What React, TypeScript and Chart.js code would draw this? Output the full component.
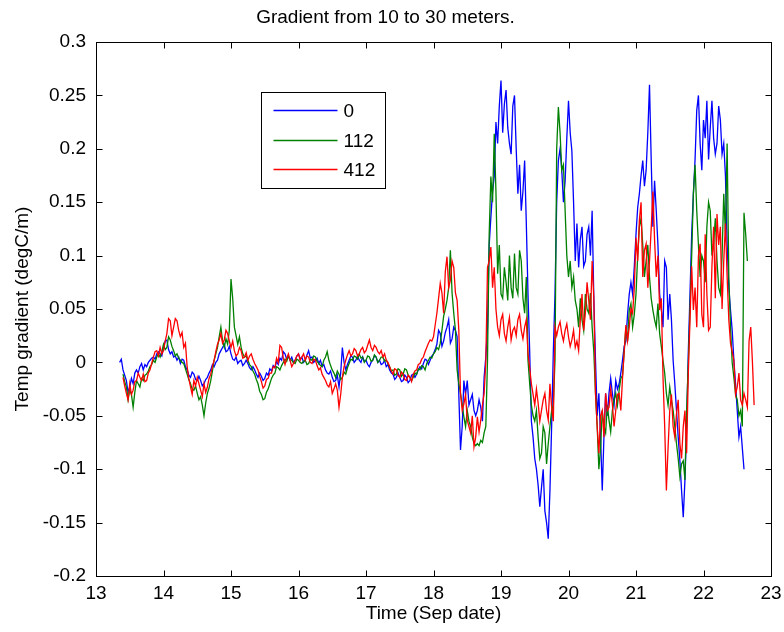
import React, { useEffect, useRef } from "react";
import { Chart, registerables } from "chart.js";

Chart.register(...registerables);

// Time axis: first sample day and sampling step (days)
const startDay = 13.35;
const stepDay = 0.025;

const seriesLabels = ["0", "112", "412"];
const seriesColors = ["#0000ff", "#008000", "#ff0000"];

const chartTitle = "Gradient from 10 to 30 meters.";
const xTitle = "Time (Sep date)";
const yTitle = "Temp gradient (degC/m)";

const xTicks = [13, 14, 15, 16, 17, 18, 19, 20, 21, 22, 23];
const yTicks = [-0.2, -0.15, -0.1, -0.05, 0, 0.05, 0.1, 0.15, 0.2, 0.25, 0.3];

// rows of 20 samples = half a day, starting 13.35 (until 17.975)
// then rows of 10 samples = quarter day, starting 18.00
const blue0 = [
  0.000, 0.003, -0.007, -0.012, -0.017, -0.028, -0.023, -0.015, -0.020, -0.010, -0.007, -0.010, -0.004, -0.001, -0.007, -0.002, -0.004, 0.000, 0.002, 0.004,
  0.005, 0.003, 0.008, 0.010, 0.008, 0.006, 0.014, 0.020, 0.021, 0.012, 0.008, 0.010, 0.005, 0.006, 0.002, 0.005, -0.001, 0.003, 0.002, -0.004,
  -0.007, -0.012, -0.014, -0.009, -0.011, -0.016, -0.017, -0.013, -0.017, -0.022, -0.020, -0.016, -0.014, -0.010, -0.007, -0.002, -0.004, 0.000, 0.002, 0.008,
  0.011, 0.014, 0.017, 0.010, 0.011, 0.015, 0.008, 0.003, 0.002, 0.005, -0.001, 0.001, 0.002, -0.003, -0.001, 0.002, -0.001, -0.005, -0.007, -0.004,
  -0.007, -0.011, -0.014, -0.010, -0.013, -0.017, -0.015, -0.010, -0.012, -0.006, -0.008, -0.003, -0.005, 0.001, -0.002, 0.004, 0.002, 0.010, 0.008, 0.003,
  0.006, 0.002, 0.005, 0.000, 0.002, 0.006, 0.008, 0.003, 0.005, 0.000, 0.002, 0.007, 0.011, 0.004, 0.005, 0.000, 0.002, 0.004, -0.001, 0.002,
  -0.004, -0.002, -0.007, -0.010, -0.011, -0.008, -0.014, -0.018, -0.017, -0.012, -0.023, -0.010, 0.014, 0.000, -0.007, -0.002, 0.002, 0.006, 0.005, 0.000,
  0.002, 0.006, 0.002, 0.000, 0.005, 0.001, 0.002, -0.002, -0.004, 0.000, 0.002, 0.006, 0.005, 0.000, 0.002, -0.002, -0.001, 0.002, -0.004, -0.002,
  -0.007, -0.010, -0.011, -0.016, -0.014, -0.010, -0.014, -0.018, -0.017, -0.012, -0.014, -0.019, -0.017, -0.012, -0.011, -0.014, -0.011, -0.007, -0.004, -0.006,
  -0.001, 0.003, 0.002, -0.002, 0.002, 0.006,
  // 18.00
  0.008, 0.012, 0.017, 0.030, 0.027, 0.015, 0.020, 0.028, 0.033, 0.040,
  0.018, 0.022, 0.033, 0.030, 0.024, -0.030, -0.082, -0.060, -0.017, -0.030,
  -0.017, -0.040, -0.035, -0.030, -0.045, -0.050, -0.045, -0.035, -0.042, -0.055,
  -0.014, 0.005, 0.033, 0.110, 0.136, 0.160, 0.174, 0.225, 0.205, 0.240,
  0.264, 0.215, 0.242, 0.255, 0.220, 0.205, 0.195, 0.240, 0.250, 0.200,
  0.158, 0.185, 0.142, 0.160, 0.189, 0.130, 0.064, 0.010, -0.055, -0.070,
  -0.090, -0.100, -0.115, -0.135, -0.117, -0.100, -0.139, -0.150, -0.165, -0.120,
  -0.060, 0.010, 0.064, 0.150, 0.189, 0.200, 0.180, 0.150, 0.170, 0.210,
  0.245, 0.215, 0.198, 0.150, 0.095, 0.130, 0.089, 0.115, 0.127, 0.090,
  0.095, 0.120, 0.127, 0.100, 0.142, 0.060, 0.002, -0.050, -0.029, -0.070,
  -0.120, -0.070, -0.029, -0.050, -0.029, -0.015, -0.029, -0.040, -0.017, -0.025,
  -0.020, -0.010, 0.002, 0.015, 0.020, 0.045, 0.064, 0.075, 0.064, 0.090,
  0.120, 0.145, 0.158, 0.175, 0.189, 0.165, 0.180, 0.215, 0.260, 0.190,
  0.127, 0.170, 0.142, 0.110, 0.064, 0.050, 0.033, 0.095, 0.089, 0.040,
  0.064, 0.040, 0.002, -0.020, -0.045, -0.070, -0.092, -0.120, -0.145, -0.110,
  -0.060, 0.010, 0.064, 0.120, 0.158, 0.190, 0.236, 0.250, 0.205, 0.180,
  0.227, 0.210, 0.245, 0.190, 0.220, 0.245, 0.210, 0.195, 0.205, 0.240,
  0.227, 0.195, 0.205, 0.175, 0.111, 0.070, 0.049, 0.030, 0.002, -0.020,
  -0.045, -0.070, -0.060, -0.080, -0.100,
];

const green112 = [
  null, null, -0.011, -0.018, -0.023, -0.035, -0.026, -0.030, -0.042, -0.028, -0.017, -0.020, -0.023, -0.015, -0.017, -0.012, -0.011, -0.008, -0.004, -0.002,
  0.002, 0.000, 0.005, 0.008, 0.005, 0.010, 0.017, 0.012, 0.014, 0.024, 0.021, 0.015, 0.011, 0.006, 0.008, 0.004, 0.002, 0.000, -0.001, -0.006,
  -0.011, -0.016, -0.020, -0.025, -0.026, -0.022, -0.029, -0.035, -0.032, -0.040, -0.050, -0.038, -0.029, -0.024, -0.017, -0.008, 0.002, 0.008, 0.014, 0.024,
  0.033, 0.020, 0.014, 0.022, 0.017, 0.030, 0.078, 0.060, 0.033, 0.025, 0.017, 0.024, 0.014, 0.008, 0.005, 0.006, 0.002, -0.002, -0.004, -0.008,
  -0.011, -0.016, -0.020, -0.027, -0.030, -0.035, -0.034, -0.028, -0.025, -0.020, -0.015, -0.012, -0.010, -0.004, -0.005, -0.007, -0.003, 0.000, 0.003, 0.001,
  0.006, 0.003, 0.002, 0.000, -0.001, 0.003, 0.002, 0.000, -0.001, 0.001, 0.002, -0.002, -0.001, 0.003, 0.002, 0.006, 0.005, 0.001, -0.001, -0.003,
  -0.004, 0.002, 0.005, 0.010, 0.002, -0.003, -0.007, -0.010, -0.014, -0.008, -0.011, -0.016, -0.014, -0.009, -0.011, -0.005, -0.001, 0.003, 0.002, 0.006,
  0.005, 0.003, 0.008, 0.004, 0.005, 0.000, 0.002, 0.006, 0.005, 0.001, 0.002, 0.007, 0.005, 0.000, 0.002, 0.005, 0.005, 0.001, 0.002, -0.001,
  -0.004, -0.008, -0.007, -0.012, -0.011, -0.006, -0.007, -0.013, -0.011, -0.006, -0.007, -0.012, -0.014, -0.017, -0.014, -0.010, -0.011, -0.006, -0.007, -0.003,
  -0.004, -0.007, -0.001, 0.002, 0.005, 0.004,
  // 18.00
  0.008, 0.010, 0.014, 0.012, 0.018, 0.030, 0.043, 0.050, 0.058, 0.070,
  0.105, 0.065, 0.046, 0.030, -0.007, -0.020, -0.029, -0.040, -0.051, -0.060,
  -0.045, -0.055, -0.060, -0.070, -0.076, -0.078, -0.076, -0.078, -0.073, -0.075,
  -0.066, -0.060, 0.002, 0.120, 0.174, 0.150, 0.214, 0.160, 0.083, 0.110,
  0.064, 0.060, 0.089, 0.075, 0.058, 0.100, 0.070, 0.060, 0.102, 0.070,
  0.064, 0.105, 0.095, 0.060, 0.046, 0.080, 0.002, -0.020, -0.040, -0.050,
  -0.055, -0.045, -0.070, -0.090, -0.085, -0.060, -0.066, -0.095, -0.076, -0.060,
  -0.045, -0.040, 0.002, 0.200, 0.239, 0.215, 0.180, 0.185, 0.142, 0.100,
  0.080, 0.095, 0.070, 0.080, 0.058, 0.050, 0.033, 0.060, 0.040, 0.030,
  0.064, 0.050, 0.046, 0.065, 0.033, 0.010, -0.029, -0.060, -0.100, -0.080,
  -0.045, -0.060, -0.066, -0.040, -0.054, -0.065, -0.045, -0.035, -0.029, -0.040,
  -0.026, -0.015, -0.012, 0.010, 0.033, 0.020, 0.049, 0.055, 0.033, 0.045,
  0.064, 0.100, 0.127, 0.135, 0.110, 0.080, 0.095, 0.110, 0.080, 0.060,
  0.049, 0.040, 0.033, 0.055, 0.027, 0.015, 0.002, -0.010, -0.029, -0.040,
  -0.023, -0.035, -0.045, -0.060, -0.076, -0.090, -0.107, -0.095, -0.092, -0.110,
  -0.045, 0.000, 0.049, 0.100, 0.158, 0.185, 0.142, 0.110, 0.080, 0.100,
  0.095, 0.075, 0.127, 0.150, 0.142, 0.100, 0.111, 0.135, 0.095, 0.070,
  0.064, 0.100, 0.158, 0.120, 0.205, 0.080, 0.033, 0.000, -0.014, -0.030,
  -0.035, -0.050, -0.045, -0.060, 0.140, 0.120, 0.095,
];

const red412 = [
  null, null, -0.014, -0.022, -0.029, -0.035, -0.020, -0.030, -0.026, -0.018, -0.017, -0.010, -0.014, -0.017, -0.011, -0.018, -0.017, -0.010, -0.007, -0.001,
  0.005, 0.010, 0.011, 0.006, 0.014, 0.008, 0.011, 0.020, 0.027, 0.041, 0.039, 0.025, 0.033, 0.041, 0.039, 0.030, 0.024, 0.028, 0.014, 0.018,
  -0.004, -0.015, -0.023, -0.030, -0.017, -0.022, -0.014, -0.020, -0.026, -0.032, -0.020, -0.028, -0.023, -0.015, -0.011, -0.004, 0.002, 0.010, 0.017, 0.021,
  0.027, 0.018, 0.021, 0.030, 0.027, 0.020, 0.014, 0.020, 0.011, 0.006, 0.008, 0.014, 0.011, 0.004, 0.005, 0.009, 0.002, 0.006, 0.008, 0.003,
  -0.001, -0.004, -0.007, -0.013, -0.018, -0.024, -0.022, -0.016, -0.015, -0.010, -0.010, -0.004, -0.005, 0.004, 0.000, 0.016, 0.014, 0.004, -0.002, 0.004,
  0.008, 0.002, -0.004, -0.001, 0.002, 0.006, 0.008, 0.002, 0.005, 0.008, 0.002, 0.006, 0.005, 0.000, -0.001, 0.003, 0.002, -0.003, -0.007, -0.005,
  -0.011, -0.014, -0.017, -0.021, -0.023, -0.018, -0.029, -0.025, -0.020, -0.026, -0.042, -0.030, -0.014, -0.004, 0.002, 0.007, 0.011, 0.006, 0.008, 0.013,
  0.011, 0.006, 0.008, 0.012, 0.014, 0.009, 0.011, 0.016, 0.021, 0.014, 0.011, 0.016, 0.014, 0.010, 0.008, 0.011, 0.005, 0.008, 0.002, 0.000,
  -0.004, -0.008, -0.011, -0.006, -0.007, -0.012, -0.014, -0.009, -0.011, -0.016, -0.017, -0.012, -0.014, -0.018, -0.011, -0.008, -0.007, -0.002, -0.001, 0.003,
  0.005, 0.010, 0.014, 0.018, 0.021, 0.020,
  // 18.00
  0.024, 0.035, 0.046, 0.060, 0.074, 0.065, 0.046, 0.085, 0.099, 0.070,
  0.077, 0.095, 0.089, 0.065, 0.058, 0.030, -0.029, -0.045, -0.039, -0.030,
  -0.054, -0.060, -0.066, -0.050, -0.079, -0.070, -0.051, -0.065, -0.054, -0.040,
  -0.029, 0.000, 0.089, 0.095, 0.108, 0.070, 0.089, 0.050, 0.033, 0.025,
  0.040, 0.045, 0.027, 0.020, 0.033, 0.042, 0.021, 0.030, 0.033, 0.025,
  0.040, 0.045, 0.030, 0.022, 0.033, 0.040, 0.008, -0.005, -0.020, -0.030,
  -0.040, -0.025, -0.038, -0.055, -0.045, -0.035, -0.029, -0.045, -0.054, -0.020,
  -0.042, -0.055, 0.033, 0.025, 0.033, 0.038, 0.027, 0.020, 0.030, 0.036,
  0.024, 0.015, 0.021, 0.030, 0.014, 0.020, 0.011, 0.040, 0.064, 0.030,
  0.046, 0.075, 0.058, 0.040, 0.095, 0.060, -0.029, -0.060, -0.085, -0.050,
  -0.045, -0.070, -0.029, -0.045, -0.042, -0.025, -0.039, -0.060, -0.045, -0.030,
  -0.029, -0.045, -0.015, 0.010, 0.035, 0.020, 0.033, 0.050, 0.046, 0.070,
  0.117, 0.095, 0.133, 0.150, 0.080, 0.105, 0.111, 0.070, 0.095, 0.125,
  0.160, 0.115, 0.080, 0.100, 0.049, 0.060, -0.014, -0.060, -0.120, -0.080,
  -0.045, -0.030, -0.060, -0.070, -0.048, -0.035, -0.076, -0.090, -0.060, -0.045,
  -0.085, -0.010, 0.040, 0.090, 0.049, 0.070, 0.033, 0.100, 0.111, 0.045,
  0.033, 0.120, 0.064, 0.030, 0.033, 0.090, 0.127, 0.060, 0.139, 0.110,
  0.127, 0.050, 0.095, 0.130, 0.080, 0.040, 0.018, 0.010, 0.002, -0.030,
  -0.023, -0.010, -0.035, -0.040, -0.029, -0.035, -0.042, 0.020, 0.033, 0.000, -0.040,
];

const FONT_FAMILY = "'Liberation Sans', Arial, sans-serif";
const FONT_SIZE = 19;

function toPoints(vals: (number | null)[]) {
  return vals.map((v, i) => ({ x: Number((startDay + i * stepDay).toFixed(3)), y: v }));
}

const framePlugin = {
  id: "matlabFrame",
  afterDatasetsDraw(chart: any) {
    const { ctx, chartArea: a, scales } = chart;
    ctx.save();
    ctx.strokeStyle = "#000";
    ctx.lineWidth = 1;
    const l = Math.round(a.left) + 0.5;
    const t = Math.round(a.top) + 0.5;
    const r = Math.round(a.right) + 0.5;
    const b = Math.round(a.bottom) + 0.5;
    ctx.strokeRect(l, t, r - l, b - t);
    const L = 6;
    ctx.beginPath();
    for (const v of xTicks) {
      const px = Math.round(scales.x.getPixelForValue(v)) + 0.5;
      ctx.moveTo(px, b);
      ctx.lineTo(px, b - L);
      ctx.moveTo(px, t);
      ctx.lineTo(px, t + L);
    }
    for (const v of yTicks) {
      const py = Math.round(scales.y.getPixelForValue(v)) + 0.5;
      ctx.moveTo(l, py);
      ctx.lineTo(l + L, py);
      ctx.moveTo(r, py);
      ctx.lineTo(r - L, py);
    }
    ctx.stroke();

    // legend box
    const bx = Math.round(a.left) + 165.5;
    const by = Math.round(a.top) + 50.5;
    const bw = 124;
    const bh = 96;
    ctx.fillStyle = "#fff";
    ctx.fillRect(bx, by, bw, bh);
    ctx.strokeStyle = "#000";
    ctx.strokeRect(bx, by, bw, bh);
    ctx.font = `${FONT_SIZE}px ${FONT_FAMILY}`;
    ctx.textBaseline = "middle";
    ctx.textAlign = "left";
    const rows = [17, 47, 76];
    chart.data.datasets.forEach((ds: any, i: number) => {
      const yy = Math.round(by + rows[i]) + 0.5;
      ctx.strokeStyle = ds.borderColor;
      ctx.lineWidth = 1.3;
      ctx.beginPath();
      ctx.moveTo(bx + 12, yy);
      ctx.lineTo(bx + 76, yy);
      ctx.stroke();
      ctx.fillStyle = "#000";
      ctx.fillText(ds.label, bx + 82, yy + 1);
    });
    ctx.restore();
  },
};

export default function App() {
  const ref = useRef<HTMLCanvasElement | null>(null);

  useEffect(() => {
    document.body.style.margin = "0";
    const canvas = ref.current;
    if (!canvas) return;
    const seriesValues = [blue0, green112, red412];
    const chart = new Chart(canvas, {
      type: "line",
      data: {
        datasets: seriesValues.map((vals, i) => ({
          label: seriesLabels[i],
          data: toPoints(vals),
          borderColor: seriesColors[i],
          backgroundColor: seriesColors[i],
          borderWidth: 1.3,
          pointRadius: 0,
          tension: 0,
          fill: false,
          spanGaps: false,
          order: 3 - i,
        })),
      },
      options: {
        responsive: false,
        animation: false,
        events: [],
        layout: { padding: { left: 0, right: 13, top: 0, bottom: 0 } },
        plugins: {
          legend: { display: false },
          tooltip: { enabled: false },
          title: {
            display: true,
            text: chartTitle,
            color: "#000",
            font: { family: FONT_FAMILY, size: FONT_SIZE, weight: "normal" },
            padding: { top: 6, bottom: 13.2 },
          },
        },
        scales: {
          x: {
            type: "linear",
            min: 13,
            max: 23,
            grid: { display: false, drawTicks: false },
            border: { display: false },
            afterBuildTicks: (s: any) => {
              s.ticks = xTicks.map((v) => ({ value: v }));
            },
            afterFit: (s: any) => {
              s.height = 56;
              s.paddingLeft = 0;
              s.paddingRight = 0;
            },
            ticks: {
              color: "#000",
              padding: 6,
              maxRotation: 0,
              autoSkip: false,
              font: { family: FONT_FAMILY, size: FONT_SIZE },
              callback: (v: any) => String(v),
            },
            title: {
              display: true,
              text: xTitle,
              color: "#000",
              font: { family: FONT_FAMILY, size: FONT_SIZE },
              padding: { top: 0, bottom: 7 },
            },
          },
          y: {
            type: "linear",
            min: -0.2,
            max: 0.3,
            grid: { display: false, drawTicks: false },
            border: { display: false },
            afterBuildTicks: (s: any) => {
              s.ticks = yTicks.map((v) => ({ value: v }));
            },
            afterFit: (s: any) => {
              s.width = 96;
              s.paddingTop = 0;
              s.paddingBottom = 0;
            },
            ticks: {
              color: "#000",
              padding: 10,
              autoSkip: false,
              font: { family: FONT_FAMILY, size: FONT_SIZE },
              callback: (v: any) => String(Number(Number(v).toFixed(2))),
            },
            title: {
              display: true,
              text: yTitle,
              color: "#000",
              font: { family: FONT_FAMILY, size: FONT_SIZE },
              padding: { top: 11, bottom: 0 },
            },
          },
        },
      },
      plugins: [framePlugin],
    } as any);
    return () => chart.destroy();
  }, []);

  return (
    <div style={{ position: "absolute", left: 0, top: 0, width: 784, height: 632, background: "#fff" }}>
      <canvas ref={ref} width={784} height={632} />
    </div>
  );
}
